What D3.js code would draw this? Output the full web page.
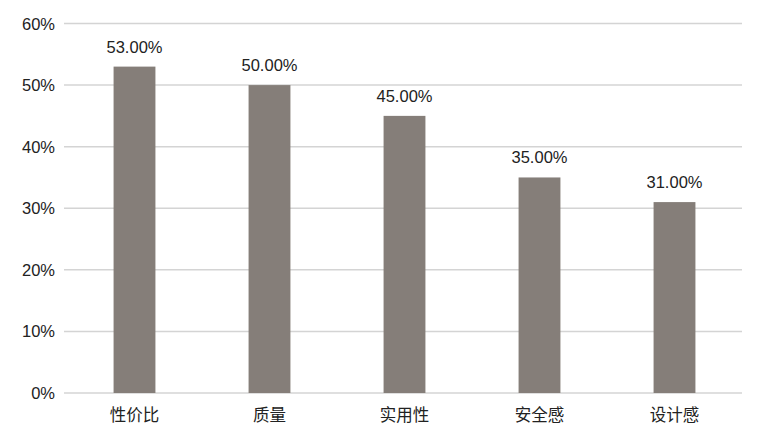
<!DOCTYPE html>
<html>
<head>
<meta charset="utf-8">
<script src="https://cdn.jsdelivr.net/npm/d3@7"></script>
<style>
  body { margin: 0; background: #fff; }
  svg text { font-family: "Liberation Sans", Arial, "Noto Sans CJK SC", sans-serif; fill: #222; }
</style>
</head>
<body>
<svg id="chart" width="772" height="438"></svg>
<script>
// data
var categories = ["性价比", "质量", "实用性", "安全感", "设计感"];
var values = [0.53, 0.50, 0.45, 0.35, 0.31];
var yTicks = [0, 0.1, 0.2, 0.3, 0.4, 0.5, 0.6];

var svg = d3.select("#chart");
var gridLeft = 64, gridRight = 742;

var x = d3.scaleBand()
  .domain(categories)
  .range([67, 742])
  .paddingInner(0.69)
  .paddingOuter(0.345);

var y = d3.scaleLinear()
  .domain([0, 0.6])
  .range([393, 23.5]);

// gridlines
svg.append("g")
  .selectAll("line")
  .data(yTicks)
  .enter().append("line")
  .attr("x1", gridLeft)
  .attr("x2", gridRight)
  .attr("y1", d => y(d))
  .attr("y2", d => y(d))
  .attr("stroke", "#d4d4d4")
  .attr("stroke-width", 1.5);

// y labels
svg.append("g")
  .selectAll("text")
  .data(yTicks)
  .enter().append("text")
  .attr("x", 55)
  .attr("y", d => y(d) + 6)
  .attr("text-anchor", "end")
  .attr("font-size", 16.5)
  .text(d => Math.round(d * 100) + "%");

// bars
svg.append("g")
  .selectAll("rect")
  .data(values)
  .enter().append("rect")
  .attr("x", (d, i) => x(categories[i]))
  .attr("width", x.bandwidth())
  .attr("y", d => y(d))
  .attr("height", d => y(0) - y(d))
  .attr("fill", "#857e79");

// value labels
svg.append("g")
  .selectAll("text")
  .data(values)
  .enter().append("text")
  .attr("x", (d, i) => x(categories[i]) + x.bandwidth() / 2)
  .attr("y", d => y(d) - 14)
  .attr("text-anchor", "middle")
  .attr("font-size", 16.5)
  .text(d => (d * 100).toFixed(2) + "%");

// category labels
svg.append("g")
  .selectAll("text")
  .data(categories)
  .enter().append("text")
  .attr("x", d => x(d) + x.bandwidth() / 2)
  .attr("y", 421)
  .attr("text-anchor", "middle")
  .attr("font-size", 16.5)
  .style("font-family", "'Noto Sans CJK SC', sans-serif")
  .text(d => d);
</script>
</body>
</html>
